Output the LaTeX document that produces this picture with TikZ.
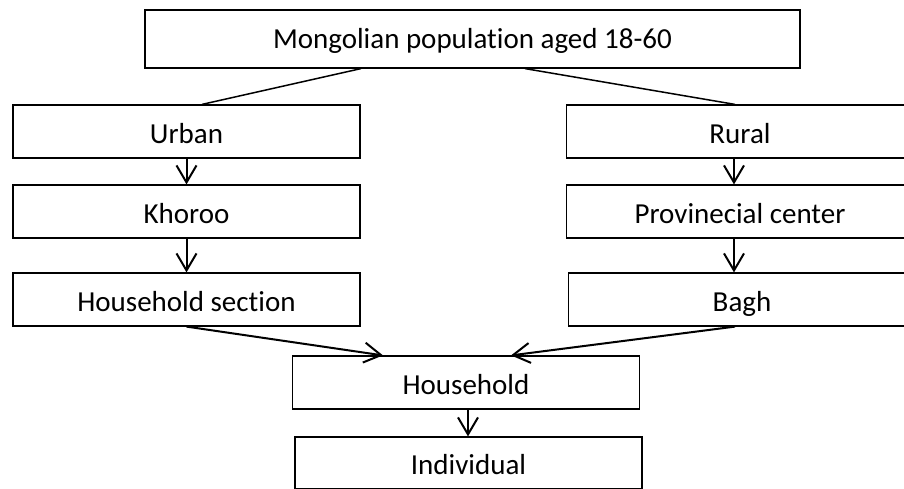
\documentclass[tikz,border=0pt]{standalone}
\usepackage{fontspec}
\setmainfont{Carlito}[Ligatures=CommonOff]
\usetikzlibrary{arrows.meta}

\begin{document}
\begin{tikzpicture}[x=1pt, y=-1pt,
		bloco/.style = {draw, line width=1.2pt, minimum width=347pt, minimum height=53pt, inner sep=0pt, text height=24pt, text depth=0pt, font=\fontsize{29}{35}\selectfont},
		linha/.style = {line width=1.5pt},
		seta/.style = {line width=2pt, -{Straight Barb[length=17pt, width=20pt, line width=2pt]}}]
		\useasboundingbox (0,0) rectangle (904,489);
		\clip (0,0) rectangle (904,489);
		\node[bloco, minimum width=655pt, minimum height=58pt, text height=19pt] (Pop) at (472.5,39) {Mongolian population aged 18-60};
		\node[bloco] (Urb) at (186.5,131.5) {Urban};
		\node[bloco] (Rur) at (740,131.5) {Rural};
		\node[bloco] (Kho) at (186.5,211.5) {Khoroo};
		\node[bloco] (Prov) at (740,211.5) {Provinecial center};
		\node[bloco] (Sec) at (186.5,299.5) {Household section};
		\node[bloco] (Bagh) at (742,299.5) {Bagh};
		\node[bloco] (Dom) at (466,382.5) {Household};
		\node[bloco, minimum height=52pt, text height=23pt] (Ind) at (468.5,463) {Individual};
		
		\draw[linha] ([xshift=-111.5pt]Pop.south) -- ([xshift=15.5pt]Urb.north);
		\draw[linha] ([xshift=52.5pt]Pop.south) -- ([xshift=-5pt]Rur.north);
		\draw[seta] (Urb) -- (Kho);
		\draw[seta] (Kho) -- (Sec);
		\draw[seta] ([xshift=-6pt]Rur.south) -- ([xshift=-6pt]Prov.north);
		\draw[seta] ([xshift=-6pt]Prov.south) -- ([xshift=-8pt]Bagh.north);
		\draw[seta] (Sec.south) -- ([xshift=-83pt]Dom.north);
		\draw[seta] ([xshift=-7pt]Bagh.south) -- ([xshift=45pt]Dom.north);
		\draw[seta] ([xshift=2pt]Dom.south) -- ([xshift=-0.5pt]Ind.north);
	\end{tikzpicture}
\end{document}
